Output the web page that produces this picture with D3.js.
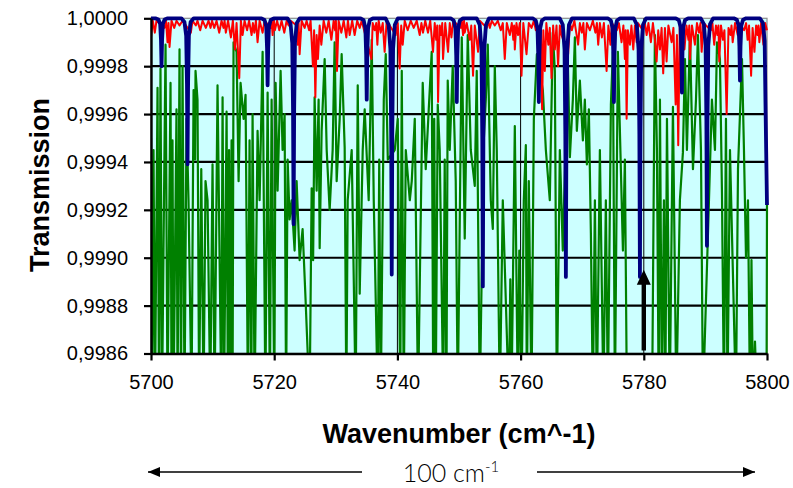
<!DOCTYPE html>
<html>
<head>
<meta charset="utf-8">
<script src="https://cdn.jsdelivr.net/npm/d3@7"></script>
<style>
  html, body { margin: 0; padding: 0; background: #ffffff; }
  svg { display: block; font-family: "Liberation Sans", Arial, sans-serif; }
</style>
</head>
<body>
<svg id="chart" width="793" height="488"></svg>
<script>
// Axis ticks
const wavenumberTicks = [5700, 5720, 5740, 5760, 5780, 5800];
const transmissionTicks = [0.9986, 0.9988, 0.9990, 0.9992, 0.9994, 0.9996, 0.9998, 1.0000];

// Dense absorption spectrum (green), [wavenumber, transmission]; values below 0.9986 run off the axis
const greenTrace = [
  [5700.00,0.99950],[5700.16,0.9984],[5700.41,0.99945],[5700.65,0.9984],[5701.06,0.99971],[5701.30,0.9984],
  [5701.54,0.99979],[5701.79,0.9984],[5702.36,0.99989],[5702.68,0.9984],[5703.17,0.99973],[5703.33,0.9984],
  [5703.49,0.99949],[5703.66,0.9984],[5704.14,0.99962],[5704.31,0.9984],[5704.63,0.99987],[5704.87,0.9984],
  [5705.12,0.99980],[5705.44,0.9984],[5705.77,0.99958],[5706.09,0.99924],[5706.58,0.9984],[5706.91,0.99970],
  [5707.15,0.99941],[5707.23,0.99978],[5707.55,0.99966],[5707.81,0.9984],[5708.16,0.99937],[5708.53,0.9984],
  [5708.85,0.99932],[5709.18,0.99924],[5709.62,0.9984],[5709.99,0.99939],[5710.32,0.9984],[5710.80,0.99972],
  [5711.41,0.9984],[5711.62,0.99967],[5711.86,0.9984],[5712.27,0.99961],[5712.48,0.9984],[5712.67,0.99945],
  [5712.84,0.9984],[5713.08,0.99949],[5713.24,0.9984],[5713.40,0.99990],[5713.89,0.99986],[5714.22,0.99932],
  [5714.54,0.99973],[5715.03,0.99958],[5715.35,0.99968],[5715.73,0.9984],[5716.00,0.99949],[5716.28,0.9984],
  [5716.49,0.99960],[5716.82,0.9984],[5717.30,0.99953],[5717.63,0.99924],[5718.12,0.99986],[5718.57,0.9984],
  [5718.93,0.99969],[5719.30,0.9984],[5719.58,0.99966],[5720.02,0.9984],[5720.23,0.99973],[5720.55,0.99928],
  [5721.04,0.99978],[5721.36,0.99945],[5721.69,0.99960],[5721.93,0.9984],[5722.18,0.99941],[5722.50,0.99916],
  [5722.83,0.99924],[5723.31,0.99903],[5723.64,0.99932],[5724.13,0.99899],[5724.61,0.99912],[5725.10,0.99882],
  [5725.75,0.9984],[5726.08,0.99929],[5726.32,0.99899],[5726.56,0.99967],[5726.89,0.99928],[5727.21,0.99966],
  [5727.38,0.99904],[5727.70,0.99953],[5728.19,0.99983],[5728.52,0.99945],[5729.00,0.99920],[5729.49,0.99945],
  [5729.81,0.99990],[5730.14,0.99932],[5730.63,0.99958],[5730.95,0.99985],[5731.44,0.99946],[5731.71,0.9984],
  [5731.93,0.99924],[5732.58,0.99945],[5733.23,0.9984],[5733.56,0.99972],[5733.88,0.99885],[5734.37,0.99945],
  [5734.69,0.99962],[5735.34,0.99924],[5735.83,0.99991],[5736.16,0.99924],[5736.81,0.9984],[5737.05,0.99941],
  [5737.30,0.9984],[5737.79,0.99966],[5738.11,0.99985],[5738.44,0.99941],[5739.57,0.99945],[5740.06,0.99958],
  [5740.46,0.9984],[5740.71,0.99978],[5741.03,0.9984],[5741.36,0.99945],[5742.01,0.99924],[5742.33,0.99932],
  [5742.82,0.99958],[5743.35,0.9984],[5744.11,0.99973],[5744.60,0.99937],[5745.09,0.99962],[5745.57,0.99986],
  [5745.82,0.9984],[5745.98,0.99958],[5746.22,0.9984],[5746.55,0.99964],[5746.87,0.99945],[5747.44,0.9984],
  [5747.68,0.99941],[5747.96,0.9984],[5748.17,0.99974],[5748.50,0.99945],[5748.98,0.99980],[5749.47,0.99932],
  [5749.80,0.9984],[5750.45,0.99992],[5750.93,0.99908],[5751.42,0.99993],[5751.91,0.99945],[5752.56,0.99930],
  [5752.88,0.99978],[5753.37,0.9984],[5754.02,0.99949],[5754.35,0.99966],[5754.67,0.99989],[5755.16,0.99924],
  [5755.49,0.99912],[5755.81,0.99980],[5756.13,0.99945],[5756.62,0.9984],[5757.11,0.99924],[5757.60,0.99882],
  [5758.09,0.9984],[5758.33,0.99891],[5758.52,0.9984],[5759.06,0.99955],[5759.55,0.9984],[5759.79,0.99903],
  [5760.15,0.9984],[5760.52,0.99924],[5760.85,0.99947],[5761.01,0.9984],[5761.33,0.99932],[5761.77,0.9984],
  [5762.15,0.99958],[5762.64,0.99985],[5763.61,0.99970],[5764.10,0.99945],[5764.74,0.99924],[5765.23,0.99994],
  [5765.56,0.99978],[5765.88,0.9984],[5766.37,0.99945],[5766.85,0.99903],[5767.67,0.99982],[5768.00,0.99942],
  [5768.48,0.99966],[5768.81,0.99992],[5769.13,0.99953],[5769.62,0.99974],[5770.11,0.99949],[5770.43,0.99966],
  [5770.76,0.99939],[5771.08,0.99962],[5771.41,0.99910],[5771.73,0.9984],[5772.06,0.99924],[5772.38,0.9984],
  [5772.87,0.99945],[5773.45,0.9984],[5773.84,0.99924],[5774.17,0.9984],[5774.66,0.99964],[5774.98,0.99986],
  [5775.31,0.9984],[5775.79,0.99986],[5776.12,0.99953],[5776.61,0.99903],[5776.93,0.99941],[5777.26,0.9984],
  [5781.35,0.9984],[5781.80,0.99993],[5782.13,0.99945],[5782.42,0.9984],[5782.62,0.99966],[5782.94,0.9984],
  [5783.27,0.99924],[5783.50,0.9984],[5783.76,0.99958],[5784.21,0.9984],[5784.73,0.99963],[5785.28,0.9984],
  [5785.86,0.99924],[5786.35,0.99944],[5786.68,0.99983],[5787.00,0.99945],[5787.49,0.99993],[5787.98,0.99937],
  [5788.47,0.99966],[5788.79,0.99993],[5789.28,0.99945],[5789.60,0.9984],[5790.58,0.99924],[5791.06,0.99966],
  [5791.55,0.99945],[5791.88,0.99990],[5792.36,0.99983],[5792.69,0.99927],[5793.01,0.9984],[5793.34,0.99958],
  [5793.58,0.9984],[5793.99,0.99945],[5794.96,0.9984],[5795.29,0.99937],[5795.94,0.99983],[5796.26,0.99945],
  [5796.59,0.99900],[5796.91,0.99924],[5797.24,0.9984],[5797.48,0.99899],[5797.72,0.9984],[5798.05,0.99865],
  [5798.38,0.9984],[5799.92,0.9984],[5800.00,0.99922]
];

// Weak line spectrum (red), [wavenumber, transmission]
const redTrace = [
  [5700.00,0.99992],[5700.29,0.99999],[5700.62,0.99994],[5700.89,0.99999],[5702.19,0.99996],[5702.44,0.99999],
  [5702.68,0.99990],[5702.84,0.99998],[5703.01,0.99988],[5703.33,0.99999],[5703.77,0.99996],[5704.14,0.99999],
  [5704.63,0.99997],[5705.12,0.99999],[5706.47,0.99994],[5706.74,0.99999],[5707.28,0.99997],[5707.55,0.99999],
  [5707.99,0.99995],[5708.37,0.99999],[5708.90,0.99996],[5709.34,0.99999],[5709.67,0.99996],[5709.91,0.99999],
  [5710.27,0.99996],[5710.64,0.99999],[5711.08,0.99994],[5711.45,0.99999],[5711.78,0.99996],[5711.94,0.99999],
  [5712.15,0.99994],[5712.51,0.99999],[5712.97,0.99992],[5713.29,0.99999],[5713.62,0.99987],[5713.89,0.99998],
  [5714.33,0.99975],[5714.59,0.99999],[5714.87,0.99993],[5715.19,0.99999],[5715.60,0.99995],[5715.92,0.99999],
  [5716.33,0.99993],[5716.54,0.99998],[5716.77,0.99994],[5717.03,0.99999],[5717.30,0.99990],[5717.63,0.99999],
  [5718.12,0.99994],[5718.44,0.99999],[5719.42,0.99996],[5719.58,0.99999],[5719.74,0.99993],[5719.94,0.99999],
  [5720.11,0.99995],[5720.47,0.99999],[5720.83,0.99995],[5721.20,0.99999],[5721.64,0.99994],[5722.02,0.99999],
  [5722.34,0.99997],[5722.67,0.99999],[5723.64,0.99997],[5723.80,0.99989],[5723.96,0.99998],[5724.13,0.99985],
  [5724.45,0.99999],[5724.94,0.99996],[5725.26,0.99999],[5725.67,0.99995],[5725.91,0.99999],[5726.29,0.99980],
  [5726.48,0.99995],[5726.68,0.99967],[5726.89,0.99993],[5727.10,0.99983],[5727.38,0.99997],[5727.65,0.99989],
  [5728.03,0.99999],[5728.46,0.99994],[5728.84,0.99999],[5729.28,0.99991],[5729.65,0.99999],[5729.89,0.99995],
  [5730.02,0.99999],[5730.19,0.99978],[5730.46,0.99999],[5730.90,0.99994],[5731.28,0.99999],[5731.71,0.99992],
  [5731.97,0.99999],[5732.25,0.99993],[5732.66,0.99999],[5733.06,0.99993],[5733.47,0.99999],[5733.88,0.99996],
  [5734.20,0.99999],[5735.78,0.99983],[5735.99,0.99998],[5736.31,0.99995],[5736.56,0.99998],[5736.75,0.99989],
  [5736.96,0.99999],[5737.29,0.99994],[5737.62,0.99998],[5737.93,0.99986],[5738.26,0.99999],[5739.72,0.99993],
  [5740.06,0.99998],[5740.37,0.99979],[5740.62,0.99997],[5740.86,0.99989],[5741.19,0.99999],[5741.67,0.99995],
  [5742.16,0.99999],[5742.65,0.99996],[5743.14,0.99999],[5743.62,0.99993],[5743.90,0.99998],[5744.16,0.99994],
  [5744.52,0.99999],[5744.97,0.99994],[5745.33,0.99999],[5745.78,0.99986],[5746.06,0.99998],[5746.30,0.99991],
  [5746.47,0.99997],[5746.60,0.99965],[5746.87,0.99997],[5747.12,0.99993],[5747.28,0.99998],[5747.41,0.99983],
  [5747.77,0.99998],[5748.22,0.99986],[5748.50,0.99998],[5748.77,0.99992],[5749.07,0.99999],[5750.29,0.99996],
  [5750.45,0.99999],[5750.66,0.99993],[5750.82,0.99999],[5750.93,0.99994],[5751.26,0.99998],[5751.75,0.99991],
  [5751.99,0.99997],[5752.28,0.99976],[5752.56,0.99997],[5753.10,0.99986],[5753.37,0.99999],[5754.51,0.99996],
  [5754.75,0.99999],[5755.00,0.99996],[5755.32,0.99999],[5755.81,0.99997],[5756.30,0.99999],[5756.78,0.99995],
  [5757.11,0.99998],[5757.43,0.99983],[5757.76,0.99998],[5758.25,0.99993],[5758.57,0.99998],[5758.82,0.99991],
  [5758.95,0.99997],[5759.06,0.99987],[5759.33,0.99998],[5759.59,0.99993],[5759.87,0.99998],[5760.15,0.99976],
  [5760.44,0.99998],[5760.96,0.99985],[5761.33,0.99998],[5761.77,0.99996],[5762.15,0.99999],[5762.47,0.99995],
  [5763.28,0.99997],[5763.49,0.99962],[5763.69,0.99995],[5763.93,0.99978],[5764.18,0.99998],[5764.50,0.99989],
  [5764.74,0.99996],[5765.02,0.99975],[5765.28,0.99997],[5765.56,0.99987],[5765.83,0.99997],[5766.09,0.99980],
  [5766.37,0.99997],[5766.65,0.99993],[5767.72,0.99985],[5768.00,0.99998],[5768.32,0.99995],[5768.73,0.99999],
  [5769.34,0.99989],[5769.62,0.99998],[5769.94,0.99994],[5770.19,0.99998],[5770.43,0.99987],[5770.76,0.99998],
  [5771.25,0.99995],[5771.73,0.99999],[5772.14,0.99994],[5772.38,0.99998],[5772.60,0.99989],[5772.87,0.99998],
  [5773.20,0.99992],[5773.52,0.99998],[5773.96,0.99978],[5774.25,0.99997],[5774.58,0.99989],[5774.82,0.99998],
  [5775.63,0.99995],[5775.96,0.99998],[5776.39,0.99990],[5776.69,0.99997],[5776.93,0.99983],[5777.06,0.99995],
  [5777.21,0.99958],[5777.42,0.99995],[5777.75,0.99989],[5777.99,0.99997],[5778.29,0.99987],[5778.56,0.99997],
  [5778.84,0.99990],[5779.05,0.99998],[5779.85,0.99995],[5780.18,0.99998],[5780.46,0.99993],[5780.75,0.99998],
  [5781.15,0.99990],[5781.48,0.99998],[5781.80,0.99991],[5782.08,0.99982],[5782.34,0.99995],[5782.62,0.99987],
  [5782.89,0.99996],[5783.15,0.99977],[5783.43,0.99996],[5783.70,0.99982],[5783.99,0.99997],[5784.52,0.99990],
  [5784.81,0.99996],[5785.17,0.99964],[5785.38,0.99993],[5785.59,0.99947],[5785.84,0.99997],[5786.60,0.99987],
  [5786.92,0.99997],[5787.25,0.99991],[5787.38,0.99997],[5787.49,0.99983],[5787.82,0.99997],[5788.30,0.99989],
  [5788.63,0.99998],[5788.95,0.99994],[5789.20,0.99998],[5789.39,0.99986],[5789.69,0.99998],[5790.90,0.99995],
  [5791.14,0.99998],[5791.43,0.99989],[5791.71,0.99997],[5791.95,0.99993],[5792.12,0.99997],[5792.25,0.99982],
  [5792.53,0.99997],[5792.85,0.99991],[5793.09,0.99995],[5793.45,0.99960],[5793.75,0.99996],[5794.07,0.99993],
  [5794.24,0.99997],[5794.43,0.99990],[5794.81,0.99998],[5795.25,0.99993],[5795.46,0.99998],[5796.28,0.99995],
  [5796.61,0.99998],[5796.85,0.99991],[5797.09,0.99997],[5797.42,0.99976],[5797.66,0.99996],[5797.96,0.99986],
  [5798.23,0.99997],[5798.47,0.99993],[5798.60,0.99997],[5798.76,0.99990],[5799.04,0.99998],[5799.42,0.99989],
  [5799.70,0.99998],[5800.00,0.99995]
];

// Strong band lines (navy), [wavenumber, transmission]
const blueTrace = [
  [5700.00,1.0],
  [5700.71,1.0],[5701.21,0.999995],[5701.49,0.999976],[5701.62,0.99991],[5701.71,0.99980],[5701.80,0.99991],[5701.93,0.999976],[5702.21,0.999995],[5702.71,1.0],
  [5704.93,1.0],[5705.43,0.999985],[5705.71,0.999927],[5705.84,0.999726],[5705.93,0.99939],[5706.02,0.999726],[5706.15,0.999927],[5706.43,0.999985],[5706.93,1.0],
  [5717.93,1.0],[5718.43,0.999993],[5718.71,0.999966],[5718.84,0.999874],[5718.93,0.99972],[5719.02,0.999874],[5719.15,0.999966],[5719.43,0.999993],[5719.93,1.0],
  [5722.15,1.0],[5722.65,0.999979],[5722.93,0.999897],[5723.06,0.999613],[5723.15,0.99914],[5723.24,0.999613],[5723.37,0.999897],[5723.65,0.999979],[5724.15,1.0],
  [5734.02,1.0],[5734.52,0.999992],[5734.80,0.999959],[5734.93,0.999847],[5735.02,0.99966],[5735.11,0.999847],[5735.24,0.999959],[5735.52,0.999992],[5736.02,1.0],
  [5738.08,1.0],[5738.58,0.999973],[5738.86,0.999872],[5738.99,0.999519],[5739.08,0.99893],[5739.17,0.999519],[5739.30,0.999872],[5739.58,0.999973],[5740.08,1.0],
  [5748.64,1.0],[5749.14,0.999991],[5749.42,0.999958],[5749.55,0.999843],[5749.64,0.99965],[5749.73,0.999843],[5749.86,0.999958],[5750.14,0.999991],[5750.64,1.0],
  [5752.87,1.0],[5753.37,0.999972],[5753.65,0.999866],[5753.78,0.999496],[5753.87,0.99888],[5753.96,0.999496],[5754.09,0.999866],[5754.37,0.999972],[5754.87,1.0],
  [5761.96,1.0],[5762.46,0.999991],[5762.74,0.999958],[5762.87,0.999843],[5762.96,0.99965],[5763.05,0.999843],[5763.18,0.999958],[5763.46,0.999991],[5763.96,1.0],
  [5766.35,1.0],[5766.85,0.999973],[5767.13,0.99987],[5767.26,0.999514],[5767.35,0.99892],[5767.44,0.999514],[5767.57,0.99987],[5767.85,0.999973],[5768.35,1.0],
  [5774.15,1.0],[5774.65,0.999991],[5774.93,0.999958],[5775.06,0.999843],[5775.15,0.99965],[5775.24,0.999843],[5775.37,0.999958],[5775.65,0.999991],[5776.15,1.0],
  [5778.37,1.0],[5778.87,0.999973],[5779.15,0.99987],[5779.28,0.999514],[5779.37,0.99892],[5779.46,0.999514],[5779.59,0.99987],[5779.87,0.999973],[5780.37,1.0],
  [5785.19,1.0],[5785.69,0.999992],[5785.97,0.999963],[5786.10,0.999861],[5786.19,0.99969],[5786.28,0.999861],[5786.41,0.999963],[5786.69,0.999992],[5787.19,1.0],
  [5789.25,1.0],[5789.75,0.999976],[5790.03,0.999886],[5790.16,0.999573],[5790.25,0.99905],[5790.34,0.999573],[5790.47,0.999886],[5790.75,0.999976],[5791.25,1.0],
  [5794.61,1.0],[5795.11,0.999994],[5795.39,0.999969],[5795.52,0.999883],[5795.61,0.99974],[5795.70,0.999883],[5795.83,0.999969],[5796.11,0.999994],[5796.61,1.0],
  [5798.84,1.0],[5799.34,0.99998],[5799.62,0.999906],[5799.75,0.999649],[5800.00,0.99922]
];

// Marked line position
const markerWavenumber = 5780;
const markerTipTransmission = 0.99895;

// Span annotation under the axis
const spanLabel = "100 cm";
const spanLabelSup = "-1";

const svg = d3.select("#chart");
const plotLeft = 151, plotRight = 767, plotTop = 18.3, plotBottom = 353.5;

const x = d3.scaleLinear().domain([5700, 5800]).range([plotLeft, plotRight]);
const y = d3.scaleLinear().domain([0.9986, 1.0]).range([plotBottom, plotTop]);

// Plot background
svg.append("rect")
  .attr("x", plotLeft).attr("y", plotTop)
  .attr("width", plotRight - plotLeft).attr("height", plotBottom - plotTop)
  .attr("fill", "#ccffff")
  .attr("stroke", "#8c8c8c").attr("stroke-width", 1.2);

// Vertical grid
svg.append("g")
  .selectAll("line")
  .data(wavenumberTicks.slice(1, -1))
  .join("line")
  .attr("x1", d => x(d)).attr("x2", d => x(d))
  .attr("y1", plotTop).attr("y2", plotBottom)
  .attr("stroke", "#000").attr("stroke-width", 1);

// Horizontal grid
svg.append("g")
  .selectAll("line")
  .data(transmissionTicks.slice(1, -1))
  .join("line")
  .attr("x1", plotLeft).attr("x2", plotRight)
  .attr("y1", d => y(d)).attr("y2", d => y(d))
  .attr("stroke", "#000").attr("stroke-width", 2.2);

svg.append("clipPath").attr("id", "plotClip")
  .append("rect")
  .attr("x", plotLeft).attr("y", 0)
  .attr("width", plotRight - plotLeft + 3).attr("height", plotBottom);

const line = d3.line().x(d => x(d[0])).y(d => y(d[1]));
const plot = svg.append("g").attr("clip-path", "url(#plotClip)");

plot.append("path").datum(greenTrace)
  .attr("d", line).attr("fill", "none")
  .attr("stroke", "#008000").attr("stroke-width", 2.2)
  .attr("stroke-linejoin", "round");

plot.append("path").datum(redTrace)
  .attr("d", line).attr("fill", "none")
  .attr("stroke", "#ff0000").attr("stroke-width", 2)
  .attr("stroke-linejoin", "round");

plot.append("path").datum(blueTrace)
  .attr("d", line).attr("fill", "none")
  .attr("stroke", "#000080").attr("stroke-width", 3.8)
  .attr("stroke-linejoin", "round");

// Upward arrow at the marked line
const ax = x(markerWavenumber), tipY = y(markerTipTransmission), baseY = plotBottom - 3;
const headH = 15, headW = 7, shaftW = 2.2;
svg.append("path")
  .attr("d", `M${ax},${tipY} L${ax + headW},${tipY + headH} L${ax + shaftW},${tipY + headH} L${ax + shaftW},${baseY} L${ax - shaftW},${baseY} L${ax - shaftW},${tipY + headH} L${ax - headW},${tipY + headH} Z`)
  .attr("fill", "#000");

// Axes
const fmt = d => d3.format(".4f")(d).replace(".", ",");
const yAxis = svg.append("g")
  .attr("transform", `translate(${plotLeft},0)`)
  .call(d3.axisLeft(y).tickValues(transmissionTicks).tickFormat(fmt).tickSize(7).tickPadding(16).tickSizeOuter(0));
const xAxis = svg.append("g")
  .attr("transform", `translate(0,${plotBottom})`)
  .call(d3.axisBottom(x).tickValues(wavenumberTicks).tickFormat(d3.format("d")).tickSize(7).tickPadding(14).tickSizeOuter(0));

[yAxis, xAxis].forEach(g => {
  g.select(".domain").attr("stroke", "#000").attr("stroke-width", 2.4);
  g.selectAll(".tick line").attr("stroke", "#000").attr("stroke-width", 2.2);
  g.selectAll(".tick text")
    .attr("fill", "#000")
    .style("font-family", '"Liberation Sans", Arial, sans-serif')
    .style("font-size", "20px");
});

// Titles
svg.append("text")
  .attr("x", (plotLeft + plotRight) / 2).attr("y", 443)
  .attr("text-anchor", "middle")
  .style("font-size", "27px").style("font-weight", "bold")
  .text("Wavenumber (cm^-1)");

svg.append("text")
  .attr("transform", "translate(49,185) rotate(-90)")
  .attr("text-anchor", "middle")
  .style("font-size", "27px").style("font-weight", "bold")
  .text("Transmission");

// Span annotation: arrows and label
const spanY = 472;
svg.append("defs").html(
  '<marker id="arrowHead" viewBox="0 0 12 10" refX="12" refY="5" markerWidth="12" markerHeight="10" markerUnits="userSpaceOnUse" orient="auto-start-reverse"><path d="M0,0 L12,5 L0,10 Z" fill="#000"/></marker>'
);
svg.append("line")
  .attr("x1", 362).attr("x2", x(5700) - 3)
  .attr("y1", spanY).attr("y2", spanY)
  .attr("stroke", "#000").attr("stroke-width", 1.5)
  .attr("marker-end", "url(#arrowHead)");
svg.append("line")
  .attr("x1", 537).attr("x2", x(5800) - 12)
  .attr("y1", spanY).attr("y2", spanY)
  .attr("stroke", "#000").attr("stroke-width", 1.5)
  .attr("marker-end", "url(#arrowHead)");

const spanText = svg.append("text")
  .attr("x", 451).attr("y", 482)
  .attr("text-anchor", "middle")
  .style("font-family", "Lato, 'Open Sans', sans-serif")
  .style("font-size", "25px").style("font-weight", "300");
spanText.append("tspan").text(spanLabel);
spanText.append("tspan").attr("dy", -10).style("font-size", "15px").text(spanLabelSup);
</script>
</body>
</html>
